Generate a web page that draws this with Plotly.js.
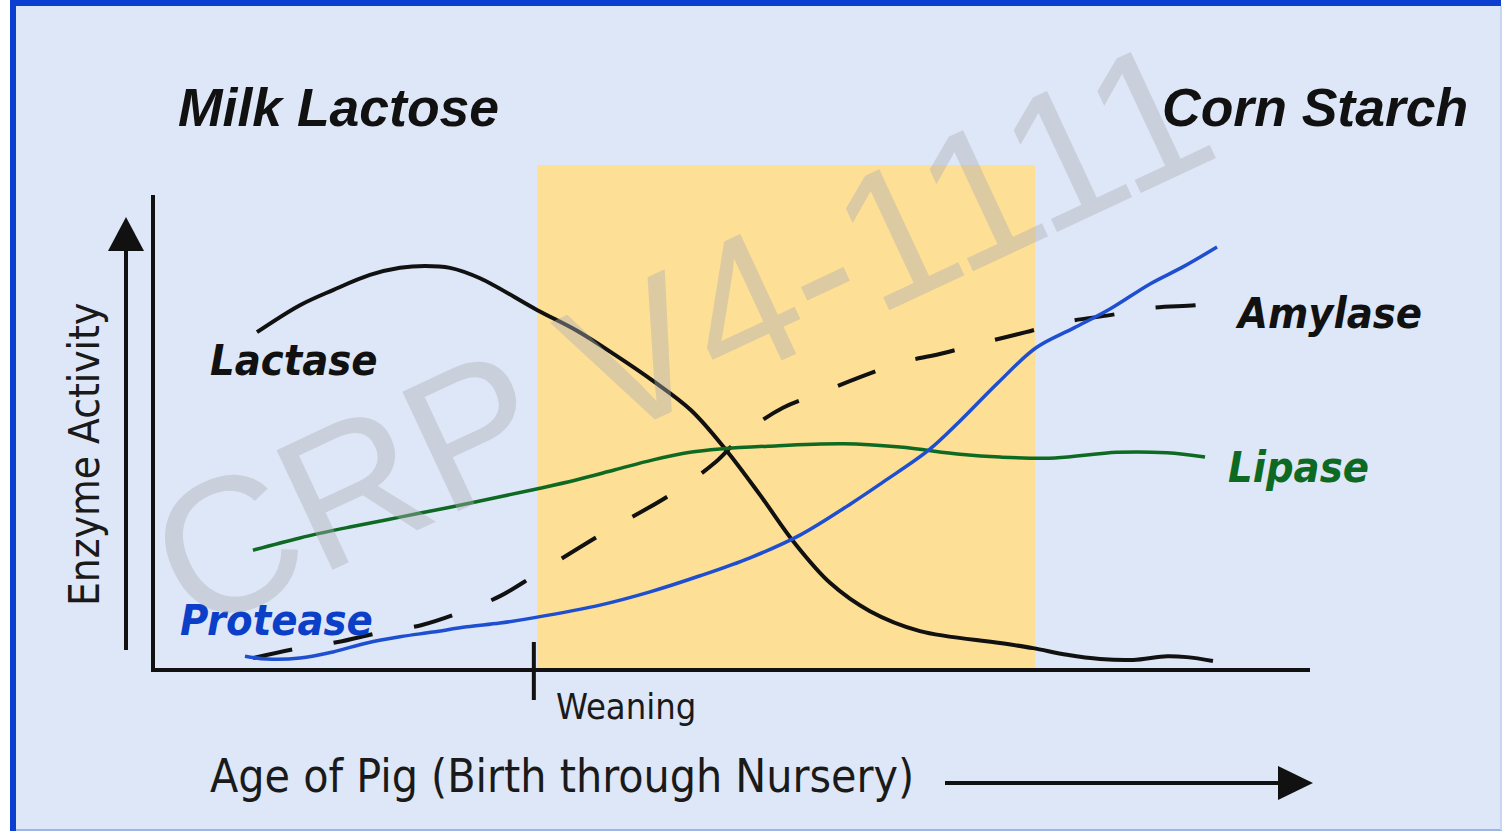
<!DOCTYPE html>
<html>
<head>
<meta charset="utf-8">
<script src="https://cdn.plot.ly/plotly-3.0.1.min.js"></script>
<style>
  html, body { margin: 0; padding: 0; background: #ffffff; }
  #chart { width: 1509px; height: 832px; }
</style>
</head>
<body>
<div id="chart"></div>
<script>
// ---- Data (age axis 0-100 = birth through nursery, activity 0-100) ----
const lactaseAge = [8.83, 12.55, 15.41, 18.61, 21.21, 23.38, 25.54, 28.14, 33.07, 36.54, 39.83, 43.12, 46.41, 49.44, 52.38, 55.41, 58.44, 61.90, 66.23, 73.16, 76.02, 78.96, 81.82, 84.68, 87.62, 89.35, 91.60];
const lactase    = [71.0, 76.7, 79.9, 83.1, 84.6, 85.0, 84.6, 82.4, 75.7, 71.3, 66.2, 60.7, 54.5, 46.1, 36.6, 26.3, 18.0, 12.0, 7.8, 5.3, 4.2, 2.8, 1.9, 1.7, 2.5, 2.3, 1.5];

const amylaseAge = [8.48, 12.03, 15.84, 19.31, 23.12, 26.49, 29.87, 33.07, 38.53, 44.59, 48.57, 51.08, 54.37, 57.58, 61.04, 64.50, 68.31, 71.60, 75.41, 78.87, 82.68, 86.15, 90.04, 91.60];
const amylase    = [2.1, 4.0, 5.5, 7.4, 9.1, 11.8, 15.2, 19.9, 28.1, 36.6, 43.6, 49.7, 55.0, 58.1, 61.5, 64.5, 66.6, 68.7, 71.0, 73.2, 74.6, 76.1, 76.7, 77.2];

const proteaseAge = [7.79, 9.70, 12.55, 15.41, 18.35, 21.21, 24.07, 27.01, 29.87, 32.73, 38.53, 42.86, 47.19, 51.52, 55.84, 60.35, 63.03, 67.01, 69.61, 72.99, 76.28, 79.57, 82.68, 86.15, 89.00, 91.95];
const protease    = [2.5, 1.9, 2.1, 3.4, 5.3, 6.6, 7.6, 8.7, 9.5, 10.6, 13.3, 16.1, 19.5, 23.3, 28.1, 34.9, 39.3, 46.1, 52.0, 60.3, 67.7, 71.9, 75.9, 81.2, 84.8, 89.0];

const lipaseAge = [8.48, 12.55, 16.88, 21.21, 25.54, 29.87, 33.33, 36.54, 39.83, 43.12, 46.32, 48.92, 53.07, 59.65, 64.50, 69.70, 73.16, 77.92, 83.29, 87.62, 90.91];
const lipase    = [24.9, 27.5, 29.8, 31.9, 34.0, 36.2, 38.0, 39.8, 41.9, 44.0, 45.6, 46.3, 46.9, 47.4, 46.7, 45.2, 44.6, 44.4, 45.6, 45.5, 44.6];

const weaningAge = 32.8;       // weaning mark on the age axis
const nurseryStart = 33.1;     // shaded nursery period
const nurseryEnd = 76.2;

const labels = {
  left: 'Milk Lactose', right: 'Corn Starch',
  lactase: 'Lactase', protease: 'Protease', amylase: 'Amylase', lipase: 'Lipase',
  yTitle: 'Enzyme Activity', weaning: 'Weaning',
  xTitle: 'Age of Pig (Birth through Nursery)', watermark: 'CRP V4-1111'
};

// ---- Layout geometry ----
const W = 1509, H = 832;
const M = { l: 155, r: 199, t: 195, b: 164 };
const PW = W - M.l - M.r, PH = H - M.t - M.b;
const px = v => (v - M.l) / PW;          // pixel x -> paper x
const py = v => (H - M.b - v) / PH;      // pixel y -> paper y

const black = '#111111', blue = '#1d4fd0', green = '#0e6a22';
const narrow = '"Liberation Sans Narrow", "DejaVu Sans Condensed", Arial, sans-serif';
const wide = '"Liberation Sans", Arial, sans-serif';

const traces = [
  { x: lactaseAge, y: lactase, mode: 'lines', line: { color: black, width: 4, shape: 'spline', smoothing: 1 }, hoverinfo: 'skip' },
  { x: amylaseAge, y: amylase, mode: 'lines', line: { color: black, width: 4, dash: '40px,42px', shape: 'spline', smoothing: 1 }, hoverinfo: 'skip' },
  { x: lipaseAge, y: lipase, mode: 'lines', line: { color: green, width: 3.5, shape: 'spline', smoothing: 1 }, hoverinfo: 'skip' },
  { x: proteaseAge, y: protease, mode: 'lines', line: { color: blue, width: 3.5, shape: 'spline', smoothing: 1 }, hoverinfo: 'skip' }
];

const shapes = [
  // frame
  { type: 'rect', xref: 'paper', yref: 'paper', x0: px(10), x1: px(1501), y0: py(831), y1: py(-5), fillcolor: '#0a3fd0', line: { width: 0 }, layer: 'below' },
  { type: 'rect', xref: 'paper', yref: 'paper', x0: px(16), x1: px(1501), y0: py(829), y1: py(6), fillcolor: '#dee7f7', line: { width: 0 }, layer: 'below' },
  { type: 'line', xref: 'paper', yref: 'paper', x0: px(16), x1: px(1502), y0: py(830), y1: py(830), line: { color: '#9db6e6', width: 2 }, layer: 'below' },
  { type: 'line', xref: 'paper', yref: 'paper', x0: px(1501), x1: px(1501), y0: py(6), y1: py(830), line: { color: '#c6d5f0', width: 2 }, layer: 'below' },
  // nursery period shading
  { type: 'rect', xref: 'x', yref: 'paper', x0: nurseryStart, x1: nurseryEnd, y0: 0, y1: py(165), fillcolor: '#fddf95', line: { width: 0 }, layer: 'below' },
  // weaning tick
  { type: 'line', xref: 'x', yref: 'paper', x0: weaningAge, x1: weaningAge, y0: py(642), y1: py(700), line: { color: black, width: 4 } },
  // up arrow
  { type: 'line', xref: 'paper', yref: 'paper', x0: px(126), x1: px(126), y0: py(650), y1: py(248), line: { color: black, width: 4 } },
  { type: 'path', xref: 'paper', yref: 'paper', path: `M${px(126)},${py(217)} L${px(108)},${py(251)} L${px(144)},${py(251)} Z`, fillcolor: black, line: { width: 0 } },
  // right arrow
  { type: 'line', xref: 'paper', yref: 'paper', x0: px(945), x1: px(1282), y0: py(783), y1: py(783), line: { color: black, width: 4 } },
  { type: 'path', xref: 'paper', yref: 'paper', path: `M${px(1313)},${py(783)} L${px(1278)},${py(766)} L${px(1278)},${py(800)} Z`, fillcolor: black, line: { width: 0 } }
];

const ann = (text, x, y, font, extra) => Object.assign({
  text, xref: 'paper', yref: 'paper', x: px(x), y: py(y), xanchor: 'left', yanchor: 'middle', showarrow: false, font
}, extra || {});

const annotations = [
  ann('<b><i>' + labels.left + '</i></b>', 176, 108, { family: wide, size: 53.5, color: black }),
  ann('<b><i>' + labels.right + '</i></b>', 1160, 108, { family: wide, size: 53.5, color: black }),
  ann('<b><i>' + labels.lactase + '</i></b>', 208, 360, { family: narrow, size: 43, color: black }),
  ann('<b><i>' + labels.protease + '</i></b>', 178, 620, { family: narrow, size: 43, color: '#0b3fc8' }),
  ann('<b><i>' + labels.amylase + '</i></b>', 1233, 313, { family: narrow, size: 43, color: black }),
  ann('<b><i>' + labels.lipase + '</i></b>', 1226, 467, { family: narrow, size: 43, color: green }),
  ann(labels.yTitle, 84, 455, { family: narrow, size: 42, color: '#1a1a1a' }, { xanchor: 'center', textangle: -90 }),
  ann(labels.weaning, 554, 706, { family: narrow, size: 36, color: '#1a1a1a' }),
  ann(labels.xTitle, 208, 776, { family: narrow, size: 46, color: '#1a1a1a' }),
  ann(labels.watermark, 680, 334, { family: wide, size: 192, color: 'rgba(172,174,180,0.42)' }, { xanchor: 'center', textangle: -25 })
];

const layout = {
  width: W, height: H,
  margin: M,
  paper_bgcolor: '#ffffff',
  plot_bgcolor: 'rgba(0,0,0,0)',
  showlegend: false,
  xaxis: { range: [0, 100], showline: true, linewidth: 4, linecolor: black, showgrid: false, zeroline: false, showticklabels: false, ticks: '', fixedrange: true },
  yaxis: { range: [0, 100], showline: true, linewidth: 4, linecolor: black, showgrid: false, zeroline: false, showticklabels: false, ticks: '', fixedrange: true },
  shapes, annotations
};

Plotly.newPlot('chart', traces, layout, { displayModeBar: false, staticPlot: true });
</script>
</body>
</html>
